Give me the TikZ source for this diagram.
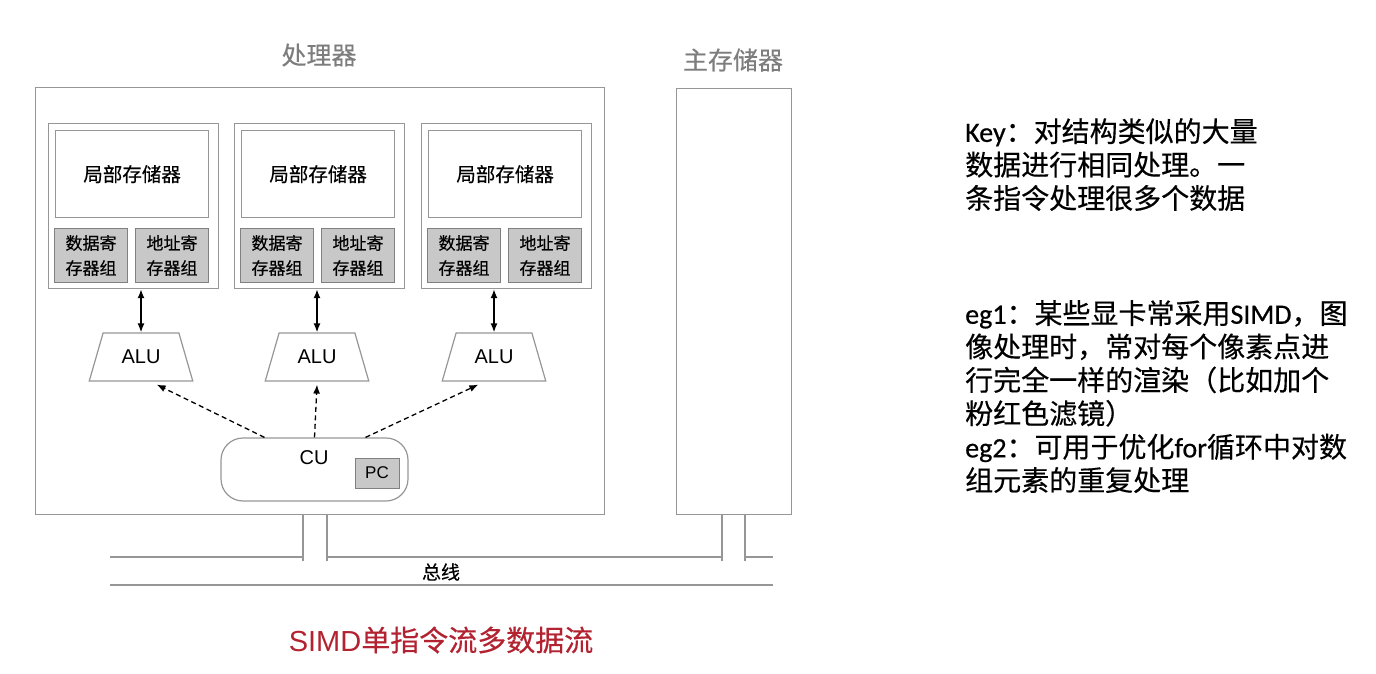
\documentclass[tikz,border=0pt]{standalone}
\usepackage{fontspec}
\setmainfont{Liberation Sans}
\newfontfamily\cjk{Noto Sans CJK SC}[FakeBold=0.4]
\newfontfamily\calfont{Carlito}[FakeBold=0.6]
\usetikzlibrary{arrows.meta,shapes.geometric,positioning}
\definecolor{boxgray}{RGB}{150,150,150}
\definecolor{regfill}{RGB}{200,200,200}
\definecolor{titlegray}{RGB}{125,125,125}
\definecolor{simdred}{RGB}{178,34,48}

\tikzset{
  pebox/.style={draw=boxgray, line width=1.2pt, minimum width=170pt, minimum height=165pt, anchor=north west, inner sep=0pt},
  membox/.style={draw=boxgray, line width=1.2pt, fill=white, minimum width=153pt, minimum height=87pt, anchor=north west, font=\cjk\fontsize{19.5}{22}\selectfont},
  regbox/.style={draw=gray, fill=regfill, line width=1pt, minimum width=73pt, minimum height=54pt, anchor=north west, align=center, inner sep=0pt, font=\cjk\fontsize{17}{25}\selectfont},
  alubox/.style={trapezium, draw=boxgray, line width=1.2pt, trapezium left angle=68, trapezium right angle=68, minimum width=104pt, minimum height=48pt, trapezium stretches=true, font=\fontsize{20}{22}\selectfont},
  twoway/.style={{Latex[length=9pt,width=7pt]}-{Latex[length=9pt,width=7pt]}, line width=1.5pt},
  ctrl/.style={-{Latex[length=9pt,width=7pt]}, dash pattern=on 5pt off 3.5pt, line width=1.3pt},
  busline/.style={draw=boxgray, line width=1.5pt},
  title/.style={text=titlegray, font=\cjk\fontsize{25}{28}\selectfont},
  note/.style={anchor=north west, align=left, inner sep=0pt, font=\cjk\fontsize{28}{33.4}\selectfont},
}

\begin{document}
\begin{tikzpicture}[x=1pt, y=-1pt]
  \useasboundingbox (0,0) rectangle (1376,674);
  % processor
  \node[title] (proctitle) at (319,55) {处理器};
  \node[draw=boxgray, line width=1.2pt, minimum width=569pt, minimum height=427pt, anchor=north west] (proc) at (35,87) {};
  \foreach \i/\x in {1/48, 2/234, 3/421} {
    \node[pebox] (pe\i) at (\x,123) {};
    \node[membox] (mem\i) at (\x+7,130) {局部存储器};
    \node[regbox] (dreg\i) at (\x+6,228) {数据寄\\存器组};
    \node[regbox] (areg\i) at (\x+87,228) {地址寄\\存器组};
  }
  \node[alubox] (alu1) at (141,357) {ALU};
  \node[alubox] (alu2) at (317,357) {ALU};
  \node[alubox] (alu3) at (494,357) {ALU};
  \foreach \i in {1,2,3}
    \draw[twoway] (alu\i.north) -- (alu\i.north |- pe\i.south);
  % control unit
  \node[draw=boxgray, line width=1.2pt, rounded corners=22pt, minimum width=187pt, minimum height=63pt] (cu) at (314.5,469.5) {};
  \node[font=\fontsize{20}{22}\selectfont] (culabel) at (314,458) {CU};
  \node[draw=gray, fill=regfill, line width=1pt, minimum width=44pt, minimum height=30pt, inner sep=0pt, font=\fontsize{17}{20}\selectfont] (pc) at (377,473) {PC};
  \draw[ctrl] ([xshift=-50pt]cu.north) -- ([xshift=-9pt,yshift=-3pt]alu1.south east);
  \draw[ctrl] (cu.north) -- ([yshift=-3pt]alu2.south);
  \draw[ctrl] ([xshift=51pt]cu.north) -- ([xshift=9pt,yshift=-3pt]alu3.south west);
  % main memory
  \node[title] (memtitle) at (733,60) {主存储器};
  \node[draw=boxgray, line width=1.2pt, minimum width=115pt, minimum height=426pt, anchor=north west] (mainmem) at (676,88) {};
  % bus
  \draw[busline] (110,557) -- (303,557);
  \draw[busline] (303,514) -- (303,561);
  \draw[busline] (327,514) -- (327,561);
  \draw[busline] (327,557) -- (722,557);
  \draw[busline] (722,514) -- (722,561);
  \draw[busline] (745,514) -- (745,561);
  \draw[busline] (745,557) -- (773,557);
  \draw[busline] (110,585) -- (773,585);
  \node[font=\cjk\fontsize{19}{22}\selectfont] (buslabel) at (441,572) {总线};
  \node[font=\fontsize{29}{32}\selectfont, text=simdred] (simd) at (441,640) {SIMD{\cjk 单指令流多数据流}};
  % notes
  \node[note] (keynote) at (965,118) {{\calfont Key}：对结构类似的大量\\数据进行相同处理。一\\条指令处理很多个数据};
  \node[note] (egnote) at (965,300) {{\calfont eg1}：某些显卡常采用{\calfont SIMD}，图\\像处理时，常对每个像素点进\\行完全一样的渲染（比如加个\\粉红色滤镜）\\{\calfont eg2}：可用于优化{\calfont for}循环中对数\\组元素的重复处理};
\end{tikzpicture}
\end{document}
